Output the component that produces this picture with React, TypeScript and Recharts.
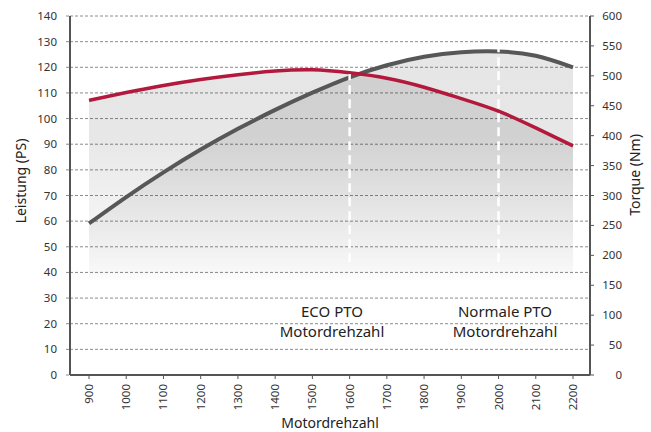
import {
  Area,
  CartesianGrid,
  ComposedChart,
  Line,
  ReferenceLine,
  XAxis,
  YAxis,
} from "recharts";

const rpm = [900, 1000, 1100, 1200, 1300, 1400, 1500, 1600, 1700, 1800, 1900, 2000, 2100, 2200];
const powerPS = [59.1, 69.4, 79.0, 87.9, 96.0, 103.4, 110.1, 116.1, 120.8, 124.1, 125.9, 126.2, 124.5, 120.0];
const torqueNm = [459, 472, 484, 494, 502, 508, 510, 505, 496, 481, 462, 441, 413, 383];

const leftTicks = [0, 10, 20, 30, 40, 50, 60, 70, 80, 90, 100, 110, 120, 130, 140];
const rightTicks = [0, 50, 100, 150, 200, 250, 300, 350, 400, 450, 500, 550, 600];

const ptoRpm = [1600, 2000];
const ptoLabels = [
  ["ECO PTO", "Motordrehzahl"],
  ["Normale PTO", "Motordrehzahl"],
];

const data = rpm.map((r, i) => ({ rpm: r, power: powerPS[i], torque: torqueNm[i] }));

const FONT = '"Noto Sans", sans-serif';
const GRID = "#8c8c8c";
const AXIS = "#555";

function XTick({ x, y, payload }: any) {
  return (
    <text
      x={x}
      y={y + 3}
      transform={`rotate(-90, ${x}, ${y + 3})`}
      textAnchor="end"
      dy="0.35em"
      fontSize={11.5}
      fill="#333"
      fontFamily={FONT}
    >
      {payload.value}
    </text>
  );
}

function LeftTick({ x, y, payload }: any) {
  return (
    <text x={x - 7} y={y} dy="0.35em" textAnchor="end" fontSize={11.5} fill="#333" fontFamily={FONT}>
      {payload.value}
    </text>
  );
}

function RightTick({ x, y, payload }: any) {
  return (
    <text x={x + 26} y={y} dy="0.35em" textAnchor="end" fontSize={11.5} fill="#333" fontFamily={FONT}>
      {payload.value}
    </text>
  );
}

export default function App() {
  return (
    <div style={{ position: "absolute", left: 0, top: 0, width: 651, height: 432, background: "#fff" }}>
      <ComposedChart width={651} height={432} data={data} margin={{ top: 16, right: 0, bottom: 0, left: 0 }}>
        <defs>
          <linearGradient id="fade" gradientUnits="userSpaceOnUse" x1={0} y1={16} x2={0} y2={282}>
            <stop offset="0%" stopColor="#000" stopOpacity={0.1} />
            <stop offset="45%" stopColor="#000" stopOpacity={0.095} />
            <stop offset="96%" stopColor="#000" stopOpacity={0.015} />
            <stop offset="100%" stopColor="#000" stopOpacity={0} />
          </linearGradient>
        </defs>
        <CartesianGrid yAxisId="left" vertical={false} stroke={GRID} strokeDasharray="3 2" />
        <XAxis
          dataKey="rpm"
          type="number"
          domain={[900, 2200]}
          ticks={rpm}
          interval={0}
          padding={{ left: 19, right: 17 }}
          height={57}
          tickSize={4}
          tick={<XTick />}
          axisLine={{ stroke: AXIS, strokeWidth: 2 }}
          tickLine={{ stroke: AXIS }}
        />
        <YAxis
          yAxisId="left"
          width={70}
          domain={[0, 140]}
          ticks={leftTicks}
          interval={0}
          tickSize={4}
          tick={<LeftTick />}
          axisLine={{ stroke: AXIS, strokeWidth: 2 }}
          tickLine={{ stroke: GRID, strokeDasharray: "3 2" }}
        />
        <YAxis
          yAxisId="right"
          orientation="right"
          width={61}
          domain={[0, 600]}
          ticks={rightTicks}
          interval={0}
          tickSize={4}
          tick={<RightTick />}
          axisLine={{ stroke: AXIS, strokeWidth: 2 }}
          tickLine={{ stroke: AXIS }}
        />
        <Area
          yAxisId="left"
          dataKey="power"
          type="natural"
          stroke="none"
          fill="url(#fade)"
          fillOpacity={1}
          isAnimationActive={false}
        />
        <Area
          yAxisId="right"
          dataKey="torque"
          type="natural"
          stroke="none"
          fill="url(#fade)"
          fillOpacity={1}
          isAnimationActive={false}
        />
        <Line
          yAxisId="left"
          dataKey="power"
          type="natural"
          stroke="#575757"
          strokeWidth={4}
          dot={false}
          activeDot={false}
          isAnimationActive={false}
        />
        <Line
          yAxisId="right"
          dataKey="torque"
          type="natural"
          stroke="#b3193d"
          strokeWidth={3.5}
          dot={false}
          activeDot={false}
          isAnimationActive={false}
        />
        {ptoRpm.map((r) => (
          <ReferenceLine
            key={r}
            yAxisId="left"
            segment={[
              { x: r, y: 44 },
              { x: r, y: powerPS[rpm.indexOf(r)] + 1.2 },
            ]}
            stroke="#fff"
            strokeWidth={2.5}
            strokeDasharray="9 5"
          />
        ))}
      </ComposedChart>
      <svg
        width={651}
        height={432}
        style={{ position: "absolute", left: 0, top: 0, pointerEvents: "none" }}
        fontFamily={FONT}
        fill="#222"
      >
        <text x={21} y={181} transform="rotate(-90, 21, 181)" textAnchor="middle" dy="0.35em" fontSize={14}>
          Leistung (PS)
        </text>
        <text x={635} y={175} transform="rotate(-90, 635, 175)" textAnchor="middle" dy="0.35em" fontSize={14}>
          Torque (Nm)
        </text>
        <text x={330} y={423} textAnchor="middle" dy="0.35em" fontSize={14}>
          Motordrehzahl
        </text>
        {ptoLabels.map((lines, i) => {
          const cx = i === 0 ? 332 : 505;
          return (
            <g key={i}>
              <text x={cx} y={312} textAnchor="middle" dy="0.35em" fontSize={15}>
                {lines[0]}
              </text>
              <text x={cx} y={332} textAnchor="middle" dy="0.35em" fontSize={15}>
                {lines[1]}
              </text>
            </g>
          );
        })}
      </svg>
    </div>
  );
}
